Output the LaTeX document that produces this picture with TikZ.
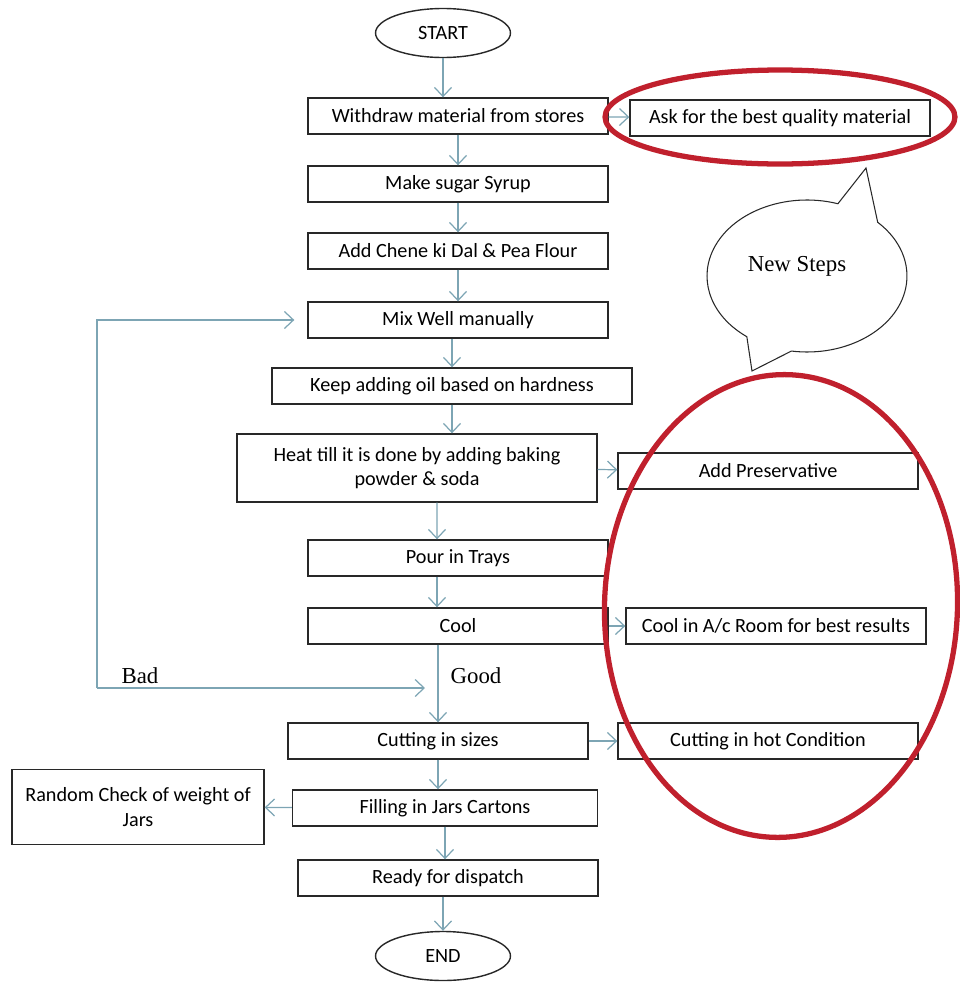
\documentclass[tikz,border=0pt]{standalone}
\usepackage{fontspec}
\setmainfont{Carlito}
\newfontfamily\notefont{Liberation Serif}
\usetikzlibrary{shapes,arrows.meta,calc}

\begin{document}
\begin{tikzpicture}[x=0.02cm, y=-0.02cm,
 every text node part/.style={align=center},
 font=\fontsize{11.5}{14}\selectfont,
block/.style={rectangle, draw=boxline, line width=0.8pt, inner sep=0pt, minimum width=6cm, minimum height=0.72cm},
term/.style={ellipse, draw=boxline, line width=0.8pt, inner sep=0pt, minimum width=2.7cm, minimum height=0.98cm},
ring/.style={ellipse, draw=ringred, line width=3pt, inner sep=0pt},
note/.style={font=\notefont\fontsize{13}{15}\selectfont},
arrow/.style={->, draw=flowblue, line width=0.7pt},
>={Straight Barb[length=1.8mm, width=3.4mm]}]

    \definecolor{boxline}{RGB}{40,40,40}
    \definecolor{flowblue}{RGB}{125,165,180}
    \definecolor{ringred}{RGB}{192,32,45}

	\useasboundingbox (0,0) rectangle (960,984);

	\node[term] (start) at (443,33) {START};
	\node[block] (withdraw) at (458,116) {Withdraw material from stores};
	\node[block] (ask) at (780,118) {Ask for the best quality material};
	\node[block] (syrup) at (458,184) {Make sugar Syrup};
	\node[block] (dal) at (458,251) {Add Chene ki Dal \& Pea Flour};
	\node[block] (mix) at (458,320) {Mix Well manually};
	\node[block, minimum width=7.2cm] (oil) at (452,386) {Keep adding oil based on hardness};
	\node[block, minimum width=7.2cm, minimum height=1.36cm] (heat) at (417,468) {Heat till it is done by adding baking\\ powder \& soda};
	\node[block] (preserve) at (768,471) {Add Preservative};
	\node[block] (trays) at (458,558) {Pour in Trays};
	\node[block] (cool) at (458,626) {Cool};
	\node[block] (acroom) at (776,626) {Cool in A/c Room for best results};
	\node[block] (cutting) at (438,741) {Cutting in sizes};
	\node[block] (hotcut) at (768,741) {Cutting in hot Condition};
	\node[block, minimum width=5.04cm, minimum height=1.5cm] (random) at (138,807) {Random Check of weight of\\ Jars};
	\node[block, minimum width=6.1cm] (filling) at (445,808) {Filling in Jars Cartons};
	\node[block] (ready) at (448,878) {Ready for dispatch};
	\node[term] (finish) at (443,956) {END};

	\node[note] (bad) at (140,676) {Bad};
	\node[note] (good) at (476,676) {Good};
	\node[note] (newsteps) at (797,266) {New Steps};

	% red marks round the new steps
	\node[ring, minimum width=7cm, minimum height=1.88cm] (ringtop) at (780,117) {};
	\node[ring, minimum width=7.06cm, minimum height=9.26cm, rotate=-2] (ringbig) at (781,606) {};

	% speech bubble
	\coordinate (bubble) at (807,276);
	\coordinate (tipup) at (866,168);
	\coordinate (tipdown) at (752,371);
	\draw[boxline, line width=0.6pt] ($(bubble)+(72:2cm and 1.52cm)$) arc[start angle=72, end angle=233, x radius=2cm, y radius=1.52cm] -- (tipdown) -- ($(bubble)+(261:2cm and 1.52cm)$) arc[start angle=261, end angle=405, x radius=2cm, y radius=1.52cm] -- (tipup) -- cycle;

	% main flow
	\draw (start) edge [arrow] (start |- withdraw.north);
	\draw (withdraw) edge [arrow] (syrup);
	\draw (syrup) edge [arrow] (dal);
	\draw (dal) edge [arrow] (mix);
	\draw (mix.south -| oil) edge [arrow] (oil);
	\draw (oil) edge [arrow] (oil |- heat.north);
	\draw ([xshift=4mm]heat.south) edge [arrow] ([xshift=-4.2mm]trays.north);
	\draw ([xshift=-4.2mm]trays.south) edge [arrow] ([xshift=-4.2mm]cool.north);
	\draw (cool.south -| cutting) edge [arrow] (cutting);
	\draw (cutting) edge [arrow] (cutting |- filling.north);
	\draw (filling) edge [arrow] (filling |- ready.north);
	\draw (ready.south -| finish) edge [arrow] (finish);

	% side steps
	\draw (withdraw) edge [arrow] (ask);
	\draw (heat) edge [arrow] (preserve);
	\draw (cool) edge [arrow] (acroom);
	\draw (cutting) edge [arrow] (hotcut);
	\draw (filling) edge [arrow] (random);

	% bad batch goes back to mixing
	\coordinate (badturn) at (97,688);
	\coordinate (goodin) at (425,688);
	\draw[arrow] (badturn) |- ($(mix.west)+(-13,0)$);
	\draw (badturn) edge [arrow] (goodin);
\end{tikzpicture}
\end{document}
